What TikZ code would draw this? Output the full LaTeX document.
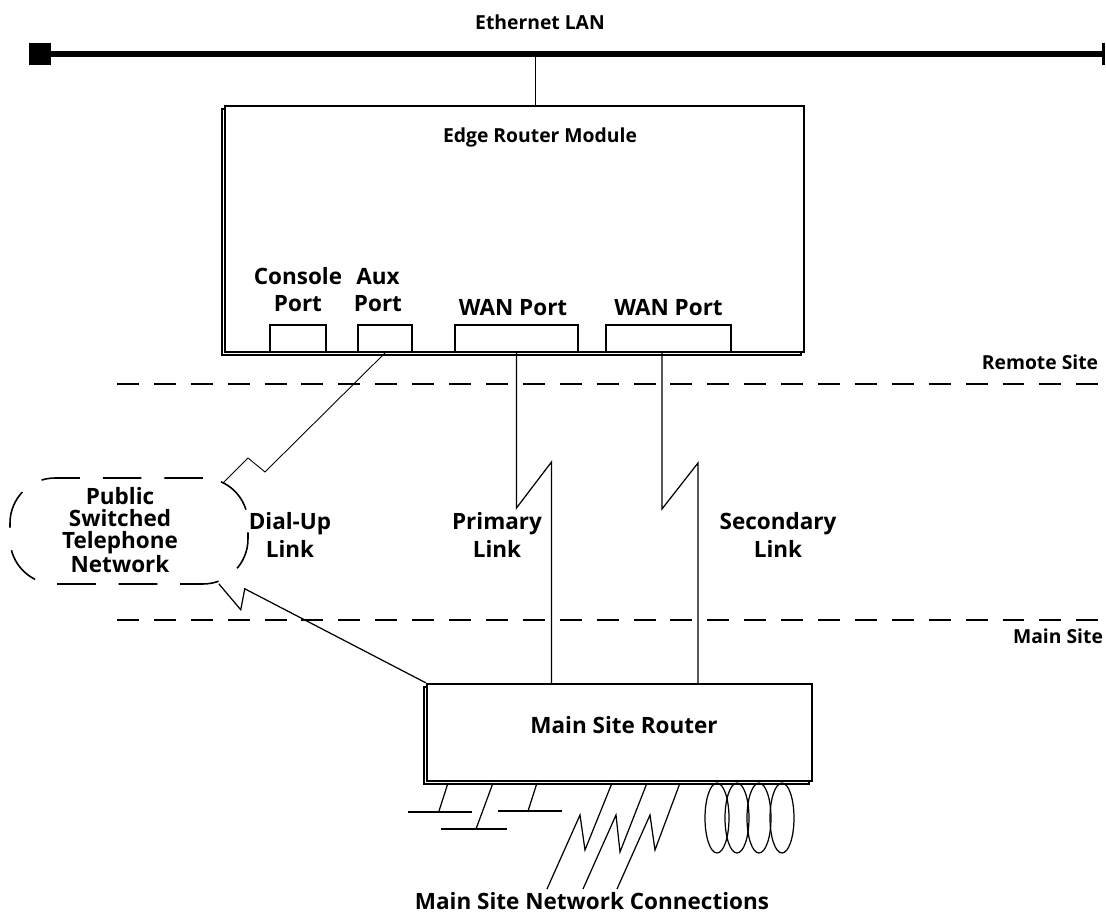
\documentclass[tikz,border=0pt]{standalone}
\usepackage{fontspec}
\setmainfont{Open Sans}
\usetikzlibrary{calc,positioning,shadows}
\tikzset{
    boks/.style={
           rectangle,
           draw=black, line width=1.3pt,
           fill=white,
           copy shadow={shadow xshift=-0.06cm, shadow yshift=-0.06cm},
           inner sep=0pt},
    portboks/.style={
           rectangle,
           draw=black, line width=1.1pt,
           minimum height=0.54cm,
           inner sep=0pt},
    kopf/.style={
           font=\bfseries\fontsize{11}{15}\selectfont,
           align=center,
           inner sep=1pt},
    tekst/.style={
           font=\bfseries\fontsize{12.8}{15.5}\selectfont,
           align=center,
           inner sep=1pt},
    lenke/.style={
           draw=black, line width=0.7pt},
    skille/.style={
           line width=1.5pt,
           dash pattern=on 12.5pt off 8.5pt},
    sky/.style={
           rectangle,
           draw=black, line width=0.9pt,
           rounded corners=0.9cm,
           dash pattern=on 22pt off 13pt,
           minimum width=4.76cm, minimum height=2.12cm},
    stubb/.style={
           line width=0.7pt}
}

\begin{document}
\begin{tikzpicture}[x=0.02cm, y=-0.02cm]
        \useasboundingbox (0,0) rectangle (1106,919);
        % LAN
        \node[kopf] (lan) at (540,22) {Ethernet LAN};
        \node[fill, minimum size=0.44cm, inner sep=0pt] (lanA) at (40,54) {};
        \node[fill, minimum width=0.06cm, minimum height=0.46cm, inner sep=0pt] (lanB) at (1103,54) {};
        \draw[line width=3.4pt] (lanA.center) -- (lanB.center);

        % edge router module
        \node[boks, minimum width=11.58cm, minimum height=4.92cm] (edge) at (514.5,229) {};
        \node[kopf] (edgelbl) at (540,137) {Edge Router Module};
        \coordinate (tap) at (535,54);
        \draw[lenke, line width=0.5pt] (tap) -- (tap |- edge.north);

        \node[portboks, minimum width=1.12cm] (console) at (298,338.5) {};
        \node[portboks, minimum width=1.08cm] (aux) at (385,338.5) {};
        \node[portboks, minimum width=2.46cm] (wanA) at (516.5,338.5) {};
        \node[portboks, minimum width=2.5cm] (wanB) at (668.5,338.5) {};
        \node[tekst, above=0.2cm of console] (consolelbl) {Console\\Port};
        \node[tekst, above=0.2cm of aux, xshift=-0.14cm] (auxlbl) {Aux\\Port};
        \node[tekst, above=0.12cm of wanA, xshift=-0.07cm] (wanAlbl) {WAN Port};
        \node[tekst, above=0.12cm of wanB] (wanBlbl) {WAN Port};

        % site borders
        \coordinate (remL) at (117,384);
        \coordinate (remR) at (1100,384);
        \draw[skille] (remL) -- (remR);
        \node[kopf] (remlbl) at (1040,362) {Remote Site};
        \coordinate (mainL) at (117,620);
        \coordinate (mainR) at (1100,620);
        \draw[skille] (mainL) -- (mainR);
        \node[kopf] (mainlbl) at (1058,636) {Main Site};

        % PSTN
        \node[sky] (pstn) at (129,531) {};
        \node[tekst, font=\bfseries\fontsize{12.8}{12.5}\selectfont] (pstnlbl) at (120,530) {Public\\Switched\\Telephone\\Network};

        % main site router
        \node[boks, minimum width=7.7cm, minimum height=1.94cm] (msr) at (619.5,732.5) {};
        \node[tekst] (msrlbl) at (624,725) {Main Site Router};

        % links
        \coordinate (dialA) at ($(pstn.north east)+(-25,5)$);
        \coordinate (dialB) at ($(pstn.south east)+(-30,-1)$);
        \draw[lenke, line width=0.5pt] (aux.south) -- ++(-120,119) -- ++(-17,-14) -- (dialA);
        \draw[lenke] (dialB) -- ++(22,26) -- ++(4,-21) -- (msr.north west);
        \draw[lenke] (wanA.south) -- ++(0,155) -- ++(35,-46) coordinate (pk1) -- (pk1 |- msr.north);
        \draw[lenke] ($(wanB.south)+(-6.5,0)$) -- ++(0,156) -- ++(36,-46) coordinate (pk2) -- (pk2 |- msr.north);
        \node[tekst] (diallbl) at (290,535) {Dial-Up\\Link};
        \node[tekst] (primlbl) at (497,535) {Primary\\Link};
        \node[tekst] (seclbl) at (778,535) {Secondary\\Link};

        % main site network connections
        \draw[stubb] (448,783) -- (439,811);
        \draw[stubb, line width=1pt] (408,812) -- (472,812);
        \draw[stubb] (493,783) -- (476,829);
        \draw[stubb, line width=1pt] (441,829) -- (507,829);
        \draw[stubb] (537,783) -- (528,811);
        \draw[stubb, line width=1pt] (498,811) -- (562,811);
        \draw[stubb] (612,783) -- (585,850) -- (580,815) -- (547,889);
        \draw[stubb] (647,783) -- (620,852) -- (616,815) -- (583,889);
        \draw[stubb] (680,783) -- (655,850) -- (650,815) -- (617,889);
        \draw[stubb] (717,818) ellipse [x radius=0.24cm, y radius=0.7cm];
        \draw[stubb] (737,818) ellipse [x radius=0.24cm, y radius=0.7cm];
        \draw[stubb] (759,818) ellipse [x radius=0.24cm, y radius=0.7cm];
        \draw[stubb] (782,818) ellipse [x radius=0.24cm, y radius=0.7cm];
        \node[tekst] (netlbl) at (592,901) {Main Site Network Connections};
\end{tikzpicture}
\end{document}
